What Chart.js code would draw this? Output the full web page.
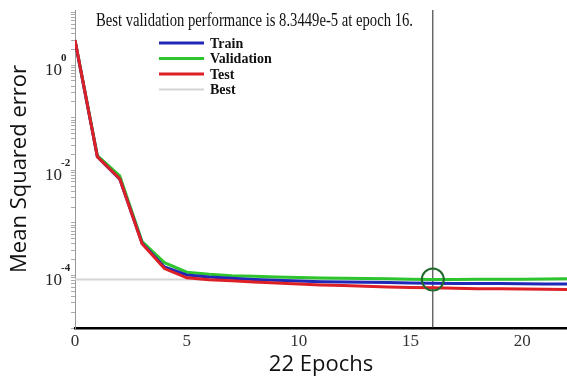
<!DOCTYPE html>
<html>
<head>
<meta charset="utf-8">
<script src="https://cdn.jsdelivr.net/npm/chart.js@4.4.0/dist/chart.umd.min.js"></script>
<style>
  html, body { margin: 0; padding: 0; background: #fff; }
  #wrap { width: 567px; height: 378px; }
</style>
</head>
<body>
<div id="wrap"><canvas id="perfChart" width="567" height="378"></canvas></div>
<script>
// données (MSE par epoch)
const epochs = [0, 1, 2, 3, 4, 5, 6, 7, 8, 9, 10, 11, 12, 13, 14, 15, 16, 17, 18, 19, 20, 21, 22];
const trainMse = [2.9, 0.018, 0.0068, 4.1e-4, 1.45e-4, 1.02e-4, 9.3e-5, 8.8e-5, 8.4e-5, 8.1e-5, 7.8e-5, 7.6e-5, 7.5e-5, 7.4e-5, 7.3e-5, 7.2e-5, 7.1e-5, 7.05e-5, 7.0e-5, 7.0e-5, 6.95e-5, 6.9e-5, 6.9e-5];
const validationMse = [3.0, 0.019, 0.0078, 4.4e-4, 1.75e-4, 1.15e-4, 1.05e-4, 9.9e-5, 9.6e-5, 9.3e-5, 9.1e-5, 8.9e-5, 8.8e-5, 8.7e-5, 8.6e-5, 8.5e-5, 8.3449e-5, 8.4e-5, 8.45e-5, 8.5e-5, 8.5e-5, 8.55e-5, 8.6e-5];
const testMse = [3.0, 0.018, 0.0069, 4.0e-4, 1.35e-4, 9.0e-5, 8.3e-5, 7.9e-5, 7.5e-5, 7.2e-5, 6.9e-5, 6.6e-5, 6.4e-5, 6.2e-5, 6.0e-5, 5.9e-5, 5.8e-5, 5.7e-5, 5.6e-5, 5.55e-5, 5.5e-5, 5.45e-5, 5.4e-5];
const bestEpoch = 16;
const bestPerf = 8.3449e-5;
const xTicks = [0, 5, 10, 15, 20];
const yTickExponents = [0, -2, -4];
const titleText = 'Best validation performance is 8.3449e-5 at epoch 16.';

const yMin = 1e-5;
const yMax = 11.2;

const toPoints = arr => epochs.map((e, i) => ({ x: e, y: arr[i] }));

// titre, légende et étiquettes 10^n dessinés à la main
const decorPlugin = {
    id: 'decor',
    afterDraw(chart) {
        const ctx = chart.ctx;
        const area = chart.chartArea;
        const yScale = chart.scales.y;
        ctx.save();

        // étiquettes de l'axe y
        ctx.fillStyle = '#222';
        yTickExponents.forEach(exp => {
            const y = yScale.getPixelForValue(Math.pow(10, exp));
            ctx.font = '17px "Liberation Serif"';
            ctx.textAlign = 'right';
            ctx.textBaseline = 'middle';
            ctx.fillText('10', area.left - 13, y + 5);
            ctx.font = 'bold 11px "Liberation Serif"';
            ctx.textAlign = 'left';
            ctx.fillText(exp === 0 ? '0' : '-' + Math.abs(exp), area.left - 14, y - 7);
        });

        // titre dans la zone du graphique
        ctx.fillStyle = '#111';
        ctx.font = '19px "Liberation Serif"';
        ctx.textAlign = 'center';
        ctx.textBaseline = 'middle';
        ctx.fillText(titleText, area.left + 179.5, area.top + 11, 317);

        // légende
        const items = chart.data.datasets.filter(d => d.inLegend);
        items.sort((a, b) => a.legendOrder - b.legendOrder);
        items.forEach((d, i) => {
            const y = area.top + 33 + i * 15.5;
            ctx.strokeStyle = d.borderColor;
            ctx.lineWidth = d.legendWidth || 3;
            ctx.beginPath();
            ctx.moveTo(area.left + 84, y);
            ctx.lineTo(area.left + 129, y);
            ctx.stroke();
            ctx.fillStyle = '#111';
            ctx.font = 'bold 14px "Liberation Serif"';
            ctx.textAlign = 'left';
            ctx.fillText(d.label, area.left + 135, y + 1);
        });
        ctx.restore();
    }
};

new Chart(document.getElementById('perfChart'), {
    type: 'line',
    data: {
        datasets: [
            {
                label: 'Test',
                data: toPoints(testMse),
                borderColor: '#dc2026',
                borderWidth: 3,
                pointRadius: 0,
                order: 2,
                inLegend: true,
                legendOrder: 2
            },
            {
                label: 'Train',
                data: toPoints(trainMse),
                borderColor: '#2028b8',
                borderWidth: 3,
                pointRadius: 0,
                order: 3,
                inLegend: true,
                legendOrder: 0
            },
            {
                label: 'Validation',
                data: toPoints(validationMse),
                borderColor: '#2ec42e',
                borderWidth: 3,
                pointRadius: 0,
                order: 4,
                inLegend: true,
                legendOrder: 1
            },
            {
                label: 'Best',
                data: [{ x: 0, y: bestPerf }, { x: epochs[epochs.length - 1], y: bestPerf }],
                borderColor: '#d4d4d4',
                borderWidth: 2,
                pointRadius: 0,
                order: 10,
                inLegend: true,
                legendOrder: 3,
                legendWidth: 2
            },
            {
                label: 'Best epoch',
                data: [{ x: bestEpoch, y: yMin }, { x: bestEpoch, y: yMax }],
                borderColor: '#222',
                borderWidth: 1,
                pointRadius: 0,
                order: 9
            },
            {
                label: 'Best point',
                data: [{ x: bestEpoch, y: bestPerf }],
                showLine: false,
                pointRadius: 11,
                pointStyle: 'circle',
                pointBorderColor: '#1f6a2a',
                pointBackgroundColor: 'rgba(0,0,0,0)',
                pointBorderWidth: 2,
                order: 1
            }
        ]
    },
    options: {
        responsive: false,
        animation: false,
        layout: { autoPadding: false, padding: { top: 10, right: 0, left: 0, bottom: 0 } },
        plugins: {
            legend: { display: false },
            tooltip: { enabled: false }
        },
        scales: {
            x: {
                type: 'linear',
                min: 0,
                max: 22,
                afterBuildTicks: scale => { scale.ticks = xTicks.map(v => ({ value: v })); },
                afterFit: scale => {
                    scale.height = 50;
                    scale.paddingRight = 0;
                    scale.paddingLeft = 0;
                },
                ticks: {
                    font: { family: 'Liberation Serif', size: 17 },
                    color: '#333',
                    padding: 3,
                    maxRotation: 0
                },
                grid: { drawOnChartArea: false, drawTicks: false },
                border: { color: '#000', width: 2.5 },
                title: {
                    display: true,
                    text: '22 Epochs',
                    font: { family: 'Open Sans', size: 22 },
                    color: '#111',
                    padding: { top: 0, bottom: 0 }
                }
            },
            y: {
                type: 'logarithmic',
                min: yMin,
                max: yMax,
                afterBuildTicks: scale => {
                    const t = [];
                    for (let e = -5; e <= 1; e++) {
                        for (let m = 1; m <= 9; m++) {
                            const v = m * Math.pow(10, e);
                            if (v >= yMin && v <= yMax) t.push({ value: v, major: m === 1 });
                        }
                    }
                    scale.ticks = t;
                },
                afterFit: scale => { scale.width = 75; },
                ticks: { display: false },
                grid: { drawOnChartArea: false, drawTicks: true, tickLength: 4, color: '#aaa' },
                border: { color: '#999', width: 1 },
                title: {
                    display: true,
                    text: 'Mean Squared error',
                    font: { family: 'Open Sans', size: 22 },
                    color: '#111',
                    padding: { top: 7, bottom: 0 }
                }
            }
        }
    },
    plugins: [decorPlugin]
});
</script>
</body>
</html>
